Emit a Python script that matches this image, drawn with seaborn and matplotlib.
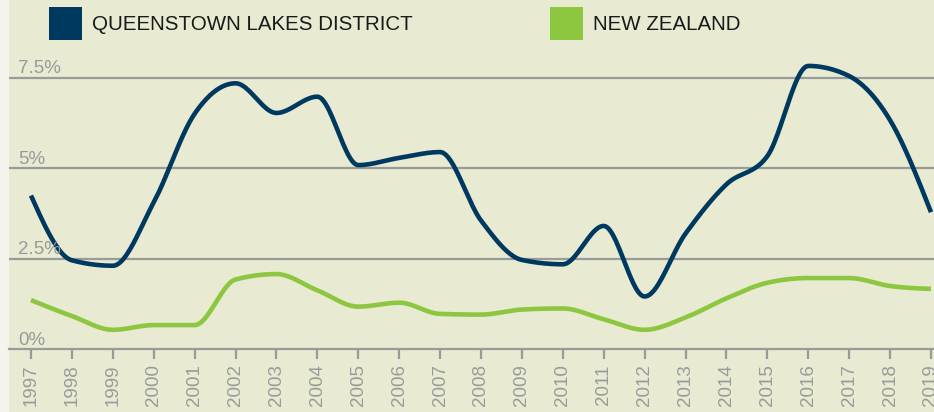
import numpy as np
import pandas as pd
import seaborn as sns
import matplotlib.pyplot as plt
from matplotlib.patches import Patch, Rectangle

years = list(range(1997, 2020))
queenstown = [4.24, 2.45, 2.30, 4.05, 6.50, 7.34, 6.52, 6.97, 5.08, 5.28, 5.44, 3.55,
              2.46, 2.34, 3.40, 1.45, 3.19, 4.55, 5.33, 7.82, 7.54, 6.32, 3.78]
new_zealand = [1.35, 0.91, 0.53, 0.66, 0.66, 1.92, 2.07, 1.62, 1.17, 1.28, 0.97, 0.95,
               1.09, 1.12, 0.82, 0.53, 0.87, 1.40, 1.83, 1.96, 1.96, 1.74, 1.66]
series_names = ['QUEENSTOWN LAKES DISTRICT', 'NEW ZEALAND']
y_ticks = [0, 2.5, 5, 7.5]
y_tick_labels = ['0%', '2.5%', '5%', '7.5%']

navy = '#00395f'
green = '#8dc63f'
bg = '#e8ebd2'
grey = '#9a9a9a'


def monotone_curve(x, y, n=24):
    # smooth drawing like d3.curveMonotoneX
    x = np.asarray(x, float)
    y = np.asarray(y, float)
    h = np.diff(x)
    s = np.diff(y) / h
    m = np.zeros_like(y)
    for i in range(1, len(y) - 1):
        p = (s[i - 1] * h[i] + s[i] * h[i - 1]) / (h[i - 1] + h[i])
        m[i] = (np.sign(s[i - 1]) + np.sign(s[i])) * min(abs(s[i - 1]), abs(s[i]), 0.5 * abs(p))
    m[0] = (3 * s[0] - m[1]) / 2
    m[-1] = (3 * s[-1] - m[-2]) / 2
    xs, ys = [], []
    for i in range(len(y) - 1):
        t = np.linspace(0, 1, n, endpoint=(i == len(y) - 2))
        h00 = 2 * t**3 - 3 * t**2 + 1
        h10 = t**3 - 2 * t**2 + t
        h01 = -2 * t**3 + 3 * t**2
        h11 = t**3 - t**2
        xs.append(x[i] + t * h[i])
        ys.append(h00 * y[i] + h10 * h[i] * m[i] + h01 * y[i + 1] + h11 * h[i] * m[i + 1])
    return np.concatenate(xs), np.concatenate(ys)


sns.set_style('white')
plt.rcParams['font.family'] = ['Liberation Sans', 'DejaVu Sans']

W, H = 934, 412
fig = plt.figure(figsize=(W / 100, H / 100), dpi=100, facecolor='#f5f3ec')
fig.patches.append(Rectangle((9 / W, 0), 1 - 9 / W, 1, transform=fig.transFigure,
                             facecolor=bg, edgecolor='none', zorder=0))

ax_bottom = 349
ax = fig.add_axes([9 / W, (H - ax_bottom) / H, 1 - 9 / W, ax_bottom / H])
ax.set_facecolor('none')
ax.set_zorder(2)

px_per_year = 900 / 22
ax.set_xlim(1997 - 22 / px_per_year, 2019 + 3 / px_per_year)
ax.set_ylim(0, ax_bottom / 36.2)

for yv in y_ticks[1:]:
    ax.axhline(yv, color=grey, lw=1.6, zorder=1)

for vals, col in [(queenstown, navy), (new_zealand, green)]:
    xs, ys = monotone_curve(years, vals)
    sns.lineplot(x=xs, y=ys, color=col, linewidth=3.3, estimator=None, sort=False,
                 ax=ax, zorder=3, solid_capstyle='butt')

for yv, lab in zip(y_ticks, y_tick_labels):
    ax.annotate(lab, xy=(9 / 925, yv), xycoords=ax.get_yaxis_transform(),
                xytext=(0, 3), textcoords='offset points', va='baseline', ha='left',
                color=grey, fontsize=13.5)

sns.despine(ax=ax, left=True, top=True, right=True)
ax.spines['bottom'].set_color(grey)
ax.spines['bottom'].set_linewidth(1.6)
ax.set_yticks([])
ax.set_xticks(years)
ax.set_xticklabels([str(y) for y in years], rotation=90, fontsize=13.5, color=grey)
ax.tick_params(axis='x', length=7, width=1.6, color=grey, pad=4, bottom=True)
ax.set_xlabel('')
ax.set_ylabel('')

for name, col, x0 in [(series_names[0], navy, 49), (series_names[1], green, 550)]:
    leg = fig.legend(handles=[Patch(facecolor=col, edgecolor='none', label=name)],
                     loc='upper left', bbox_to_anchor=(x0 / W, 1 - 7 / H), frameon=False,
                     fontsize=14.8, handlelength=1.605, handleheight=2.09,
                     handletextpad=0.49, borderpad=0, borderaxespad=0,
                     labelcolor='#1a1a1a')
    leg.set_zorder(3)

fig.savefig('out.png', dpi=100, facecolor=fig.get_facecolor())
